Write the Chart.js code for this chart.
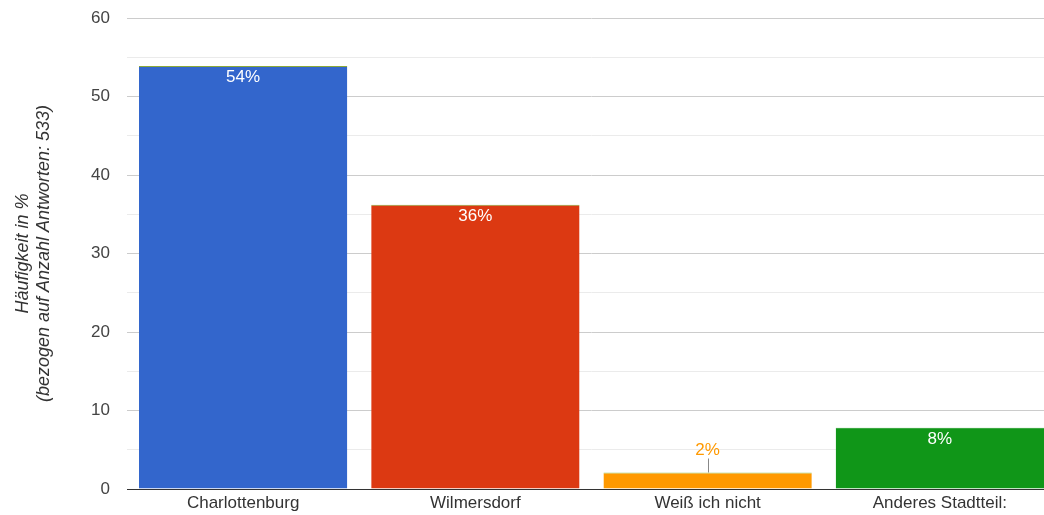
<!DOCTYPE html>
<html>
<head>
<meta charset="utf-8">
<script src="https://cdn.jsdelivr.net/npm/chart.js@4.4.1/dist/chart.umd.min.js"></script>
<style>
  html, body { margin: 0; padding: 0; background: #fff; overflow: hidden; }
  #wrap { width: 1058px; height: 515px; position: relative; }
</style>
</head>
<body>
<div id="wrap"><canvas id="c"></canvas></div>
<script>
// Wohnort der Befragten (Anteil in %)
const categories = ['Charlottenburg', 'Wilmersdorf', 'Weiß ich nicht', 'Anderes Stadtteil:'];
const shares = [53.9, 36.2, 2.1, 7.8];
const valueLabels = ['54%', '36%', '2%', '8%'];
const barColors = ['#3366cc', '#dc3912', '#ff9900', '#109618'];
const topEdgeColors = ['#8aa83a', '#8aa83a', '#9ccc65', '#109618'];
const yTitle = ['Häufigkeit in %', '(bezogen auf Anzahl Antworten: 533)'];

const FONT = "'Liberation Sans', Arial, sans-serif";

// Prozentangaben in bzw. über den Balken
const valueLabelPlugin = {
  id: 'valueLabels',
  afterDatasetsDraw(chart) {
    const ctx = chart.ctx;
    const meta = chart.getDatasetMeta(0);
    ctx.save();
    ctx.font = '17px ' + FONT;
    ctx.textAlign = 'center';
    meta.data.forEach((bar, i) => {
      const barHeight = bar.base - bar.y;
      if (barHeight > 30) {
        ctx.fillStyle = '#ffffff';
        ctx.textBaseline = 'top';
        ctx.fillText(valueLabels[i], bar.x, bar.y + 3);
      } else {
        ctx.fillStyle = barColors[i];
        ctx.textBaseline = 'bottom';
        ctx.fillText(valueLabels[i], bar.x, bar.y - 14);
        ctx.strokeStyle = '#888888';
        ctx.lineWidth = 1;
        ctx.beginPath();
        ctx.moveTo(Math.round(bar.x) + 0.5, bar.y - 14);
        ctx.lineTo(Math.round(bar.x) + 0.5, bar.y);
        ctx.stroke();
      }
    });
    ctx.restore();
  }
};

new Chart(document.getElementById('c'), {
  type: 'bar',
  data: {
    labels: categories,
    datasets: [{
      data: shares,
      backgroundColor: barColors,
      borderColor: topEdgeColors,
      borderWidth: { top: 1, left: 0, right: 0, bottom: 0 },
      borderSkipped: 'start',
      categoryPercentage: 1,
      barPercentage: 0.897
    }]
  },
  options: {
    responsive: true,
    maintainAspectRatio: false,
    animation: false,
    layout: { padding: { top: 18, right: 2, left: 0, bottom: 0 } },
    plugins: {
      legend: { display: false },
      tooltip: { enabled: false }
    },
    scales: {
      x: {
        grid: { display: false, drawTicks: false },
        border: { display: true, color: '#333333', width: 1 },
        ticks: { color: '#333333', font: { family: FONT, size: 17 }, padding: 4, maxRotation: 0 },
        afterFit(scale) { scale.height = 26; }
      },
      y: {
        min: 0,
        max: 60,
        grid: {
          drawTicks: false,
          color(ctx) {
            const v = ctx.tick.value;
            if (v === 0) return 'rgba(0,0,0,0)';
            return v % 10 === 0 ? '#cccccc' : '#ebebeb';
          }
        },
        border: { display: false },
        ticks: {
          stepSize: 5,
          color: '#444444',
          font: { family: FONT, size: 17 },
          padding: 17,
          callback(v) { return v % 10 === 0 ? String(v) : ''; }
        },
        title: {
          display: true,
          text: yTitle,
          color: '#333333',
          font: { family: FONT, size: 18, style: 'italic', lineHeight: 1.17 },
          padding: { top: 12, bottom: 0 }
        },
        afterFit(scale) {
          scale.width = 127;
          scale.paddingTop = 0;
          scale.paddingBottom = 0;
        }
      }
    }
  },
  plugins: [valueLabelPlugin]
});
</script>
</body>
</html>
